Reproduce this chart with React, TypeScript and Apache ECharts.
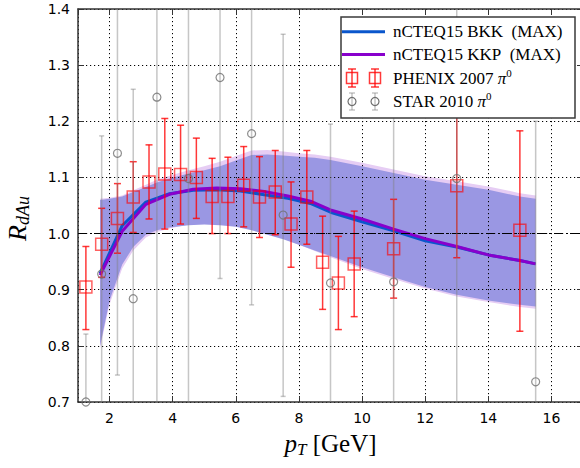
import React, { useEffect, useRef } from 'react';
import * as echarts from 'echarts';

// ---------- data ----------
// PHENIX 2007 pi0
const phenixX = [1.25, 1.75, 2.25, 2.75, 3.25, 3.75, 4.25, 4.75, 5.25, 5.75, 6.25, 6.75, 7.25, 7.75, 8.25, 8.75, 9.25, 9.75, 11, 13, 15];
const phenixY = [0.905, 0.981, 1.027, 1.065, 1.092, 1.106, 1.105, 1.100, 1.066, 1.066, 1.086, 1.065, 1.074, 1.017, 1.065, 0.949, 0.912, 0.946, 0.973, 1.085, 1.006];
const phenixLo = [0.829, 0.922, 0.965, 1.002, 1.026, 1.008, 1.017, 1.027, 1.000, 1.000, 1.012, 0.993, 0.998, 0.940, 0.981, 0.865, 0.829, 0.852, 0.885, 0.957, 0.826];
const phenixHi = [0.977, 1.045, 1.089, 1.128, 1.158, 1.205, 1.193, 1.170, 1.134, 1.136, 1.155, 1.137, 1.148, 1.092, 1.148, 1.031, 0.995, 1.040, 1.061, 1.213, 1.183];

// STAR 2010 pi0
const starX = [1.25, 1.75, 2.25, 2.75, 3.5, 4.5, 5.5, 6.5, 7.5, 9.0, 11, 13, 15.5];
const starY = [0.700, 0.928, 1.143, 0.884, 1.243, 1.098, 1.278, 1.178, 1.033, 0.912, 0.914, 1.098, 0.736];
const starLo = [0.580, 0.680, 0.748, 0.510, 0.650, 0.600, 0.920, 0.873, 0.710, 0.630, 0.580, 0.600, 0.500];
const starHi = [0.821, 1.174, 1.540, 1.257, 1.840, 1.600, 1.640, 1.480, 1.355, 1.195, 1.250, 1.600, 1.200];

// nCTEQ15 central curves
const theoryX = [1.7, 2.4, 3.15, 3.9, 4.65, 5.4, 6.15, 6.9, 7.65, 8.4, 9.0, 10, 11, 12, 13, 14, 15, 15.5];
const bkkCentral = [0.929, 1.014, 1.056, 1.071, 1.077, 1.078, 1.076, 1.069, 1.063, 1.053, 1.038, 1.021, 1.005, 0.987, 0.976, 0.962, 0.952, 0.946];
const kkpCentral = [0.926, 1.004, 1.052, 1.070, 1.079, 1.081, 1.080, 1.075, 1.067, 1.057, 1.042, 1.026, 1.008, 0.991, 0.977, 0.962, 0.952, 0.946];

// uncertainty bands
const bandX = [1.7, 2.0, 2.4, 2.75, 3.15, 3.5, 3.9, 4.5, 5.0, 5.5, 6.0, 6.5, 7.0, 7.5, 8.0, 8.5, 9.0, 10, 11, 12, 13, 14, 15, 15.5];
const bkkUpper = [1.060, 1.062, 1.066, 1.074, 1.083, 1.091, 1.098, 1.107, 1.113, 1.120, 1.130, 1.140, 1.141, 1.139, 1.137, 1.135, 1.131, 1.120, 1.108, 1.096, 1.087, 1.078, 1.066, 1.062];
const bkkLower = [0.800, 0.881, 0.945, 0.976, 0.998, 1.006, 1.011, 1.015, 1.016, 1.015, 1.012, 1.006, 0.998, 0.990, 0.980, 0.970, 0.960, 0.940, 0.922, 0.905, 0.891, 0.881, 0.873, 0.870];
const kkpUpper = [1.062, 1.064, 1.068, 1.077, 1.087, 1.096, 1.103, 1.113, 1.120, 1.128, 1.138, 1.148, 1.149, 1.146, 1.143, 1.141, 1.137, 1.126, 1.114, 1.102, 1.093, 1.084, 1.072, 1.068];
const kkpLower = [0.796, 0.874, 0.938, 0.970, 0.993, 1.003, 1.009, 1.016, 1.018, 1.017, 1.014, 1.008, 1.000, 0.991, 0.980, 0.969, 0.958, 0.937, 0.919, 0.902, 0.888, 0.878, 0.869, 0.866];

const referenceLine = 1.0;
const xRange = [1, 17];
const yRange = [0.7, 1.4];

const legendLabels = ['nCTEQ15 BKK\u00a0\u00a0(MAX)', 'nCTEQ15 KKP\u00a0\u00a0(MAX)', 'PHENIX 2007\u00a0', 'STAR 2010\u00a0'];

// ---------- styles ----------
const BKK_COLOR = '#0a56cc';
const KKP_COLOR = '#8800cc';
const BKK_BAND = '#9a97e3';
const KKP_BAND = '#e6cdf4';
const RED = 'rgba(255,0,0,0.78)';
const GRAY_BAR = 'rgba(128,128,128,0.45)';
const GRAY_MARK = '#6f6f6f';
const SERIF = '"Liberation Serif", "DejaVu Serif", serif';
const SANS = '"DejaVu Sans", sans-serif';

function bandSeries(name: string, lo: number[], hi: number[], color: string, z: number) {
  return {
    name,
    type: 'custom',
    z,
    silent: true,
    clip: true,
    data: bandX.map((x, i) => [x, lo[i], hi[i]]),
    encode: { x: 0, y: [1, 2] },
    renderItem: (params: any, api: any) => {
      if (params.dataIndex !== 0) return null;
      const pts: number[][] = [];
      for (let i = 0; i < bandX.length; i++) pts.push(api.coord([bandX[i], hi[i]]));
      for (let i = bandX.length - 1; i >= 0; i--) pts.push(api.coord([bandX[i], lo[i]]));
      return { type: 'polygon', shape: { points: pts }, style: { fill: color, stroke: 'none' } };
    },
  };
}

function errorSeries(name: string, xs: number[], lo: number[], hi: number[], color: string, width: number, cap: number, z: number) {
  return {
    name,
    type: 'custom',
    z,
    silent: true,
    clip: true,
    data: xs.map((x, i) => [x, lo[i], hi[i]]),
    encode: { x: 0, y: [1, 2] },
    renderItem: (_params: any, api: any) => {
      const x = api.value(0);
      const p1 = api.coord([x, api.value(1)]);
      const p2 = api.coord([x, api.value(2)]);
      const style = { stroke: color, lineWidth: width, fill: 'none' };
      return {
        type: 'group',
        children: [
          { type: 'line', shape: { x1: p1[0], y1: p1[1], x2: p2[0], y2: p2[1] }, style },
          { type: 'line', shape: { x1: p1[0] - cap, y1: p1[1], x2: p1[0] + cap, y2: p1[1] }, style },
          { type: 'line', shape: { x1: p2[0] - cap, y1: p2[1], x2: p2[0] + cap, y2: p2[1] }, style },
        ],
      };
    },
  };
}

function legendGraphics() {
  const L = 341, T = 17, W = 234, H = 101;
  const x1 = 352, x2 = 375, tx = 393;
  const rows = [31.7, 54.5, 78, 101.5];
  const els: any[] = [];
  els.push({ type: 'rect', z: 100, shape: { x: L, y: T, width: W, height: H }, style: { fill: '#fff', stroke: '#3a3a3a', lineWidth: 1.5 } });
  els.push({ type: 'line', z: 101, shape: { x1: x1 - 10, y1: rows[0], x2: x2 + 10, y2: rows[0] }, style: { stroke: BKK_COLOR, lineWidth: 3 } });
  els.push({ type: 'line', z: 101, shape: { x1: x1 - 10, y1: rows[1], x2: x2 + 10, y2: rows[1] }, style: { stroke: KKP_COLOR, lineWidth: 3 } });
  for (const cx of [x1, x2]) {
    const y = rows[2];
    const s = { stroke: RED, lineWidth: 1.5, fill: 'none' };
    els.push({ type: 'line', z: 101, shape: { x1: cx, y1: y - 9, x2: cx, y2: y + 9 }, style: s });
    els.push({ type: 'line', z: 101, shape: { x1: cx - 4, y1: y - 9, x2: cx + 4, y2: y - 9 }, style: s });
    els.push({ type: 'line', z: 101, shape: { x1: cx - 4, y1: y + 9, x2: cx + 4, y2: y + 9 }, style: s });
    els.push({ type: 'rect', z: 101, shape: { x: cx - 5.5, y: y - 5.5, width: 11, height: 11 }, style: s });
    const y2 = rows[3];
    const g = { stroke: GRAY_BAR, lineWidth: 1.5, fill: 'none' };
    els.push({ type: 'line', z: 101, shape: { x1: cx, y1: y2 - 8.5, x2: cx, y2: y2 + 8.5 }, style: g });
    els.push({ type: 'line', z: 101, shape: { x1: cx - 3, y1: y2 - 8.5, x2: cx + 3, y2: y2 - 8.5 }, style: g });
    els.push({ type: 'line', z: 101, shape: { x1: cx - 3, y1: y2 + 8.5, x2: cx + 3, y2: y2 + 8.5 }, style: g });
    els.push({ type: 'circle', z: 101, shape: { cx, cy: y2, r: 4 }, style: { stroke: GRAY_MARK, lineWidth: 1.2, fill: 'none' } });
  }
  const rich = {
    n: { fontFamily: SERIF, fontSize: 17, lineHeight: 22, fill: '#000' },
    i: { fontFamily: SERIF, fontSize: 17, lineHeight: 22, fontStyle: 'italic', fill: '#000' },
    sup: { fontFamily: SERIF, fontSize: 11, verticalAlign: 'top', fill: '#000' },
  };
  const texts = [
    `{n|${legendLabels[0]}}`,
    `{n|${legendLabels[1]}}`,
    `{n|${legendLabels[2]}}{i|π}{sup|0}`,
    `{n|${legendLabels[3]}}{i|π}{sup|0}`,
  ];
  texts.forEach((t, k) => {
    els.push({ type: 'text', z: 102, x: tx, y: rows[k], style: { text: t, rich, align: 'left', verticalAlign: 'middle' } });
  });
  return els;
}

export default function App() {
  const ref = useRef<HTMLDivElement>(null);
  useEffect(() => {
    document.body.style.margin = '0';
    const chart = echarts.init(ref.current!, null, { renderer: 'svg' });
    const axisLineStyle = { color: '#333', width: 1.5 };
    const tickStyle = { show: true, inside: true, length: 6, lineStyle: { color: '#333', width: 1 } };
    const xCommon = {
      type: 'value',
      min: xRange[0],
      max: xRange[1],
      splitNumber: 8,
      minInterval: 2,
      maxInterval: 2,
    };
    const yCommon = {
      type: 'value',
      min: yRange[0],
      max: yRange[1],
      interval: 0.1,
    };
    const option: any = {
      animation: false,
      backgroundColor: '#fff',
      grid: { left: 78, right: -3, top: 9, bottom: 66, containLabel: false, outerBoundsMode: 'none' },
      xAxis: [
        {
          ...xCommon,
          position: 'bottom',
          axisLine: { show: true, lineStyle: axisLineStyle },
          axisTick: tickStyle,
          axisLabel: { show: true, showMinLabel: false, showMaxLabel: false, color: '#000', fontFamily: SANS, fontSize: 14, margin: 9 },
          splitLine: { show: true, lineStyle: { color: '#000', width: 1, type: [1.2, 2.8] } },
          name: '{i|p}{sub|T}{n|\u00a0[GeV]}',
          nameLocation: 'middle',
          nameGap: 26,
          nameTextStyle: {
            rich: {
              i: { fontFamily: SERIF, fontStyle: 'italic', fontSize: 25, lineHeight: 30, color: '#000' },
              sub: { fontFamily: SERIF, fontStyle: 'italic', fontSize: 17, verticalAlign: 'bottom', color: '#000' },
              n: { fontFamily: SERIF, fontSize: 25, lineHeight: 30, color: '#000' },
            },
          },
        },
        {
          ...xCommon,
          position: 'top',
          axisLine: { show: true, lineStyle: axisLineStyle },
          axisTick: tickStyle,
          axisLabel: { show: false },
          splitLine: { show: false },
        },
      ],
      yAxis: [
        {
          ...yCommon,
          position: 'left',
          axisLine: { show: true, lineStyle: axisLineStyle },
          axisTick: tickStyle,
          axisLabel: { color: '#000', fontFamily: SANS, fontSize: 14, margin: 8, formatter: (v: number) => v.toFixed(1) },
          splitLine: { show: true, lineStyle: { color: '#000', width: 1, type: [1.2, 2.8] } },
          name: '{i|R}{sub|dAu}',
          nameLocation: 'middle',
          nameGap: 46,
          nameRotate: 90,
          nameTextStyle: {
            padding: [0, 26, 0, 0],
            rich: {
              i: { fontFamily: SERIF, fontStyle: 'italic', fontSize: 26, lineHeight: 30, color: '#000' },
              sub: { fontFamily: SERIF, fontStyle: 'italic', fontSize: 18, verticalAlign: 'bottom', color: '#000' },
            },
          },
        },
        {
          ...yCommon,
          position: 'right',
          axisLine: { show: true, lineStyle: axisLineStyle },
          axisTick: tickStyle,
          axisLabel: { show: false },
          splitLine: { show: false },
        },
      ],
      series: [
        bandSeries('KKP band', kkpLower, kkpUpper, KKP_BAND, -2),
        bandSeries('BKK band', bkkLower, bkkUpper, BKK_BAND, -1),
        {
          name: 'nCTEQ15 BKK (MAX)',
          type: 'line',
          z: 2,
          symbol: 'none',
          data: theoryX.map((x, i) => [x, bkkCentral[i]]),
          lineStyle: { color: BKK_COLOR, width: 3 },
          markLine: {
            silent: true,
            symbol: ['none', 'none'],
            label: { show: false },
            lineStyle: { color: '#000', width: 1.2, type: [9, 3, 2, 3] },
            data: [{ yAxis: referenceLine }],
          },
        },
        {
          name: 'nCTEQ15 KKP (MAX)',
          type: 'line',
          z: 3,
          symbol: 'none',
          data: theoryX.map((x, i) => [x, kkpCentral[i]]),
          lineStyle: { color: KKP_COLOR, width: 3 },
        },
        errorSeries('PHENIX err', phenixX, phenixLo, phenixHi, RED, 1.5, 3.5, 4),
        {
          name: 'PHENIX 2007',
          type: 'scatter',
          z: 4,
          symbol: 'rect',
          symbolSize: 12,
          data: phenixX.map((x, i) => [x, phenixY[i]]),
          itemStyle: { color: 'rgba(0,0,0,0)', borderColor: RED, borderWidth: 1.5 },
        },
        errorSeries('STAR err', starX, starLo, starHi, GRAY_BAR, 1.5, 2.5, 5),
        {
          name: 'STAR 2010',
          type: 'scatter',
          z: 6,
          symbol: 'circle',
          symbolSize: 8,
          data: starX.map((x, i) => [x, starY[i]]),
          itemStyle: { color: 'rgba(0,0,0,0)', borderColor: GRAY_MARK, borderWidth: 1.2 },
        },
      ],
      graphic: legendGraphics(),
    };
    chart.setOption(option);
    return () => chart.dispose();
  }, []);
  return <div ref={ref} style={{ width: 580, height: 468 }} />;
}
